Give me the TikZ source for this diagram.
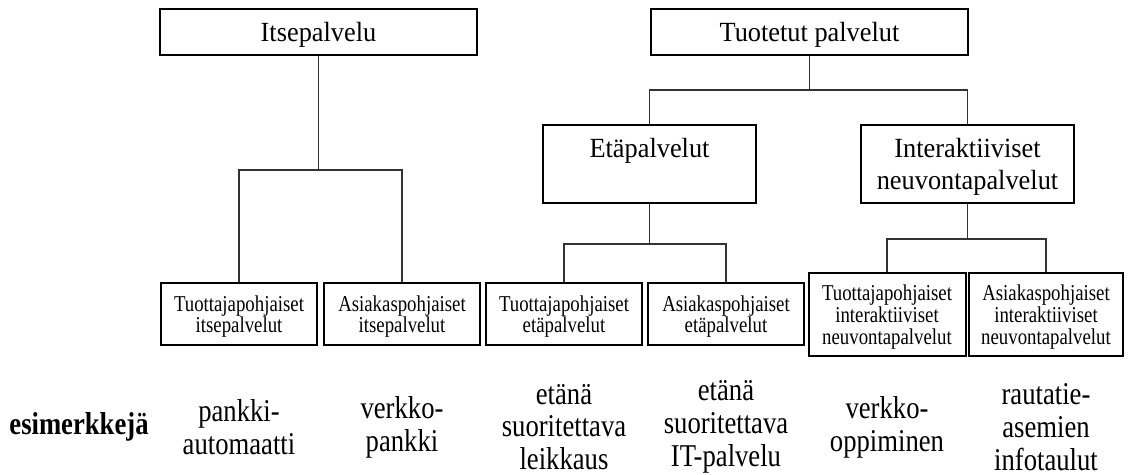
\documentclass[tikz,border=0pt]{standalone}
\usepackage{fontspec}
\setmainfont{Liberation Serif}
\newfontfamily\topfont[FakeStretch=0.95]{Liberation Serif}
\newfontfamily\boxfont[FakeStretch=0.83]{Liberation Serif}
\newfontfamily\exfont[FakeStretch=0.84]{Liberation Serif}
\usetikzlibrary{positioning}

\tikzset{
  mainbox/.style={draw, line width=1.5pt, align=center, inner sep=0pt, text depth=0pt,
    font=\topfont\fontsize{20.8}{23.8}\selectfont},
  subbox/.style={draw, line width=1.5pt, align=center, inner sep=0pt, text depth=0pt,
    minimum width=117pt, minimum height=46.5pt, font=\boxfont\fontsize{17}{16.3}\selectfont},
  link/.style={draw=black!80, line width=0.8pt},
  example/.style={align=center, inner sep=0pt, font=\exfont\fontsize{23.8}{24.6}\selectfont}
}

\begin{document}
\begin{tikzpicture}[x=0.75pt,y=-0.75pt]
  \useasboundingbox (0,0) rectangle (1129,475);

  %draw upper boxes
  \node[mainbox, minimum width=237.75pt, minimum height=34.5pt] (itse) at (318.5,31.5) {Itsepalvelu};
  \node[mainbox, minimum width=237.75pt, minimum height=34.5pt] (tuot) at (809.5,31.5) {Tuotetut palvelut};
  \node[mainbox, minimum width=159.75pt, minimum height=58.5pt] (eta) at (649.5,164) {Etäpalvelut\\\strut};
  \node[mainbox, minimum width=159.75pt, minimum height=58.5pt] (inter) at (967.5,164) {Interaktiiviset\\neuvontapalvelut};

  %draw lower boxes
  \node[subbox] (b1) at (239,314) {Tuottajapohjaiset\\itsepalvelut};
  \node[subbox] (b2) at (402,314) {Asiakaspohjaiset\\itsepalvelut};
  \node[subbox] (b3) at (564,314) {Tuottajapohjaiset\\etäpalvelut};
  \node[subbox] (b4) at (726,314) {Asiakaspohjaiset\\etäpalvelut};
  \node[subbox, minimum width=117.75pt, minimum height=62.25pt] (b5) at (887,314.5) {Tuottajapohjaiset\\interaktiiviset\\neuvontapalvelut};
  \node[subbox, minimum width=115.5pt, minimum height=62.25pt] (b6) at (1046,314.5) {Asiakaspohjaiset\\interaktiiviset\\neuvontapalvelut};

  %draw connectors
  \coordinate (itsej) at (318.5,170);
  \coordinate (tuotj) at (809.5,90);
  \coordinate (etaj) at (649.5,244);
  \coordinate (interj) at (967.5,239);
  \draw[link] (itse) -- (itsej);
  \draw[link] (b1.north) |- (itsej) -| (b2.north);
  \draw[link] (tuot) -- (tuotj);
  \draw[link] (eta.north) |- (tuotj) -| (inter.north);
  \draw[link] (eta) -- (etaj);
  \draw[link] (b3.north) |- (etaj) -| (b4.north);
  \draw[link] (inter) -- (interj);
  \draw[link] (b5.north) |- (interj) -| (b6.north);

  %draw examples
  \node[example, font=\exfont\fontsize{23.8}{24.6}\selectfont\bfseries] (ex) at (79,427) {esimerkkejä};
  \node[example] (e1) at (b1 |- ex) {pankki-\\automaatti};
  \node[example] (e2) at (b2 |- ex) {verkko-\\pankki};
  \node[example] (e3) at (b3 |- ex) {etänä\\suoritettava\\leikkaus};
  \node[example] (e4) at (b4 |- ex) {etänä\\suoritettava\\IT-palvelu};
  \node[example] (e5) at (b5 |- ex) {verkko-\\oppiminen};
  \node[example] (e6) at (b6 |- ex) {rautatie-\\asemien\\infotaulut};
\end{tikzpicture}
\end{document}
